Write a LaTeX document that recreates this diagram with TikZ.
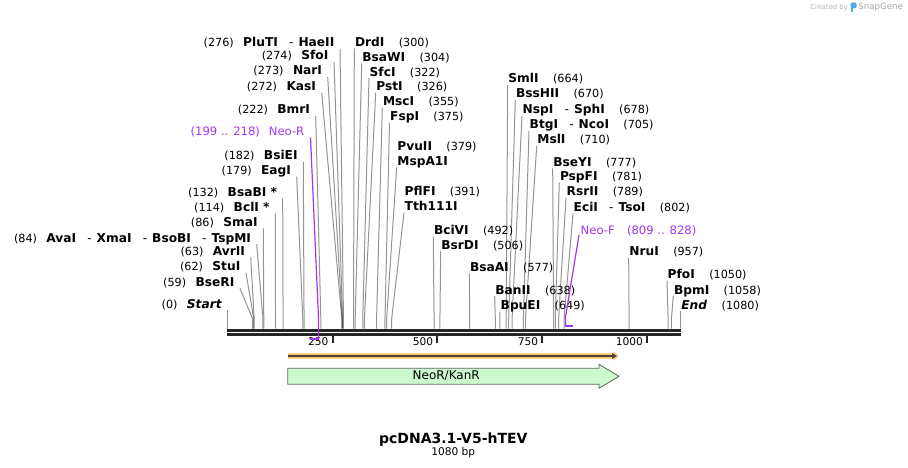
\documentclass[tikz,border=0pt]{standalone}
\usepackage{fontspec}
\setmainfont{DejaVu Sans}
\usetikzlibrary{positioning, arrows.meta}

\definecolor{neopurple}{RGB}{160,55,240}
\definecolor{orfhalo}{RGB}{250,202,125}
\definecolor{orfdark}{RGB}{75,65,55}
\definecolor{featgreen}{RGB}{204,250,204}
\definecolor{snapblue}{RGB}{80,170,230}

\newcommand{\dsep}{\hspace{11.2pt}\textmd{-}\hspace{5pt}}

\begin{document}
\begin{tikzpicture}[x=1pt, y=-1pt,
        cutname/.style={
            inner sep=0pt,
            font=\bfseries\fontsize{12.2}{14}\selectfont
        },
        cutpos/.style={
            inner sep=0pt,
            font=\fontsize{11.2}{13}\selectfont
        },
        cutline/.style={
            draw=black,
            draw opacity=0.42,
            line width=1pt
        },
        neoname/.style={
            inner sep=0pt,
            text=neopurple,
            font=\fontsize{11.6}{13}\selectfont
        },
        neoline/.style={
            draw=neopurple,
            line width=1.2pt
        },
        axisline/.style={
            draw=black!85,
            line width=2.8pt
        },
        tickmark/.style={
            draw=black!85,
            line width=2pt
        },
        ticklabel/.style={
            inner sep=0pt,
            font=\fontsize{10.6}{12}\selectfont
        },
        featbox/.style={
            fill=featgreen,
            draw=black!60,
            line width=0.8pt
        }
    ]
    \useasboundingbox (0,0) rectangle (908,468);

    % Sites labelled on the left of their lines
    \foreach \yt/\xt/\bp/\nm [count=\i] in {
        49/340/276/{PluTI\dsep HaeII},
        62/334/274/SfoI,
        77/327.7/273/NarI,
        92.7/321.7/272/KasI,
        116/315.7/222/BmrI,
        161.7/303.3/182/BsiEI,
        176.7/296.7/179/EagI,
        198.3/282.7/132/{BsaBI *},
        213.3/275.3/114/{BclI *},
        228.3/263.3/86/SmaI,
        244/256.7/84/{AvaI\dsep XmaI\dsep BsoBI\dsep TspMI},
        257.3/250.7/63/AvrII,
        272.7/246/62/StuI,
        288.3/240/59/BseRI,
        310/227.7/0/{\textit{Start}}
    }{
        \coordinate (lt\i) at (\xt,\yt);
        \coordinate (lp\i) at ({227.7+0.41944*\bp},328.5);
        \node[cutname, anchor=base east] (ln\i) at ([shift={(-5.5,-2)}]lt\i) {\nm};
        \node[cutpos, base left=9pt of ln\i] (lb\i) {(\bp)};
        \draw[cutline] (lt\i) -- ([yshift=10pt]lp\i) -- (lp\i);
    }

    % Sites labelled on the right of their lines
    \foreach \yt/\xt/\bp/\nm [count=\i] in {
        48.3/354.3/300/DrdI,
        63.3/361.7/304/BsaWI,
        78.3/369/322/SfcI,
        92.7/375.7/326/PstI,
        107.7/382.3/355/MscI,
        123/389.5/375/FspI,
        236.7/433.3/492/BciVI,
        251/440.7/506/BsrDI,
        273.3/469.3/577/BsaAI,
        296/494.7/638/BanII,
        311.7/500/649/BpuEI,
        85/507.7/664/SmlI,
        100/515.3/670/BssHII,
        116/522/678/{NspI\dsep SphI},
        131/529/705/{BtgI\dsep NcoI},
        146/536.7/710/MslI,
        168.3/552.7/777/BseYI,
        182.7/559.3/781/PspFI,
        197.7/566/789/RsrII,
        213.3/573/802/{EciI\dsep TsoI},
        257.7/628.7/957/NruI,
        280.7/667/1050/PfoI,
        296/673.3/1058/BpmI,
        311/680.7/1080/{\textit{End}}
    }{
        \coordinate (rt\i) at (\xt,\yt);
        \coordinate (rp\i) at ({227.7+0.41944*\bp},328.5);
        \node[cutname, anchor=base west] (rn\i) at ([shift={(0.5,-2)}]rt\i) {\nm};
        \node[cutpos, base right=14pt of rn\i] (rb\i) {(\bp)};
        \draw[cutline] (rt\i) -- ([yshift=10pt]rp\i) -- (rp\i);
    }

    % Two-name sites
    \coordinate (mspt) at (396.7,167.3);
    \coordinate (mspp) at ({227.7+0.41944*379},328.5);
    \node[cutname, anchor=base west] (msp) at ([shift={(0.5,-2)}]mspt) {MspA1I};
    \node[cutname, anchor=base west] (pvu) at ([yshift=15pt]msp.base west) {PvuII};
    \node[cutpos, base right=14pt of pvu] (pvub) {(379)};
    \draw[cutline] (mspt) -- ([yshift=10pt]mspp) -- (mspp);

    \coordinate (ttht) at (404,212.7);
    \coordinate (tthp) at ({227.7+0.41944*391},328.5);
    \node[cutname, anchor=base west] (tth) at ([shift={(0.5,-2)}]ttht) {Tth111I};
    \node[cutname, anchor=base west] (pfl) at ([yshift=15pt]tth.base west) {PflFI};
    \node[cutpos, base right=14pt of pfl] (pflb) {(391)};
    \draw[cutline] (ttht) -- ([yshift=10pt]tthp) -- (tthp);

    % Map line and ticks
    \coordinate (mapL) at (226.7,332.4);
    \coordinate (mapR) at (681.2,332.4);
    \draw[axisline] ([yshift=2.1pt]mapL) -- ([yshift=2.1pt]mapR);
    \draw[axisline] ([yshift=-2.1pt]mapL) -- ([yshift=-2.1pt]mapR);
    \foreach \t in {250,500,750,1000}{
        \coordinate (tk\t) at ({227.7+0.41944*\t},336);
        \draw[tickmark] (tk\t) -- ++(0,6.5);
        \node[ticklabel, anchor=base east] (tl\t) at ([shift={(-4,9.5)}]tk\t) {\t};
    }

    % Primers
    \coordinate (nrt) at (310.5,137.3);
    \coordinate (nrp) at (318.5,339);
    \coordinate (nrq) at (310,339);
    \node[neoname, anchor=base east] (neor) at ([shift={(-6,-1.5)}]nrt) {Neo-R};
    \node[neoname, base left=8.5pt of neor] (neorb) {(199 .. 218)};
    \draw[neoline] (nrt) -- ([yshift=21pt]nrp) -- (nrp);
    \draw[neoline, line width=2.2pt] ([xshift=0.6pt]nrp) -- (nrq);

    \coordinate (nft) at (579,235);
    \coordinate (nfp) at (565.5,325.7);
    \coordinate (nfq) at (573,325.7);
    \node[neoname, anchor=base west] (neof) at ([shift={(1.5,-0.7)}]nft) {Neo-F};
    \node[neoname, base right=12pt of neof] (neofb) {(809 .. 828)};
    \draw[neoline] (nft) -- ([yshift=8.7pt]nfp) -- (nfp);
    \draw[neoline, line width=2.2pt] ([xshift=-0.6pt]nfp) -- (nfq);

    % Features
    \coordinate (orfL) at (288,356);
    \coordinate (orfR) at (618.5,356);
    \draw[draw=orfhalo, line width=5.5pt, -{Triangle[length=5pt,width=10pt]}] (orfL) -- (orfR);
    \draw[draw=orfdark, line width=1.6pt, -{Triangle[length=5pt,width=5.5pt]}] (orfL) -- ([xshift=-1.5pt]orfR);

    \draw[featbox] (287.7,368.3) -- (599,368.3) -- (599,364.3) -- (619,376.3)
        -- (599,388.3) -- (599,384.3) -- (287.7,384.3) -- cycle;
    \node[font=\fontsize{12}{14}\selectfont] (neokan) at (446.2,376) {NeoR/KanR};

    % Title
    \node[inner sep=0pt, anchor=base, font=\bfseries\fontsize{14}{16}\selectfont] (title) at (453.3,443.3) {pcDNA3.1-V5-hTEV};
    \node[inner sep=0pt, below=1pt of title, font=\fontsize{10.6}{12}\selectfont] (bplen) {1080 bp};

    % Credit
    \node[inner sep=0pt, anchor=base east, text=black!35, font=\fontsize{8.6}{10}\selectfont] (snap) at (903,10) {SnapGene};
    \fill[snapblue, rounded corners=1.5pt] (850.5,2.5) rectangle (856.5,8.5);
    \fill[snapblue] (850.5,5) rectangle (852.5,12);
    \node[inner sep=0pt, anchor=base east, text=black!30, font=\fontsize{6.8}{8}\selectfont] (createdby) at (848,9.5) {Created by};

\end{tikzpicture}
\end{document}
